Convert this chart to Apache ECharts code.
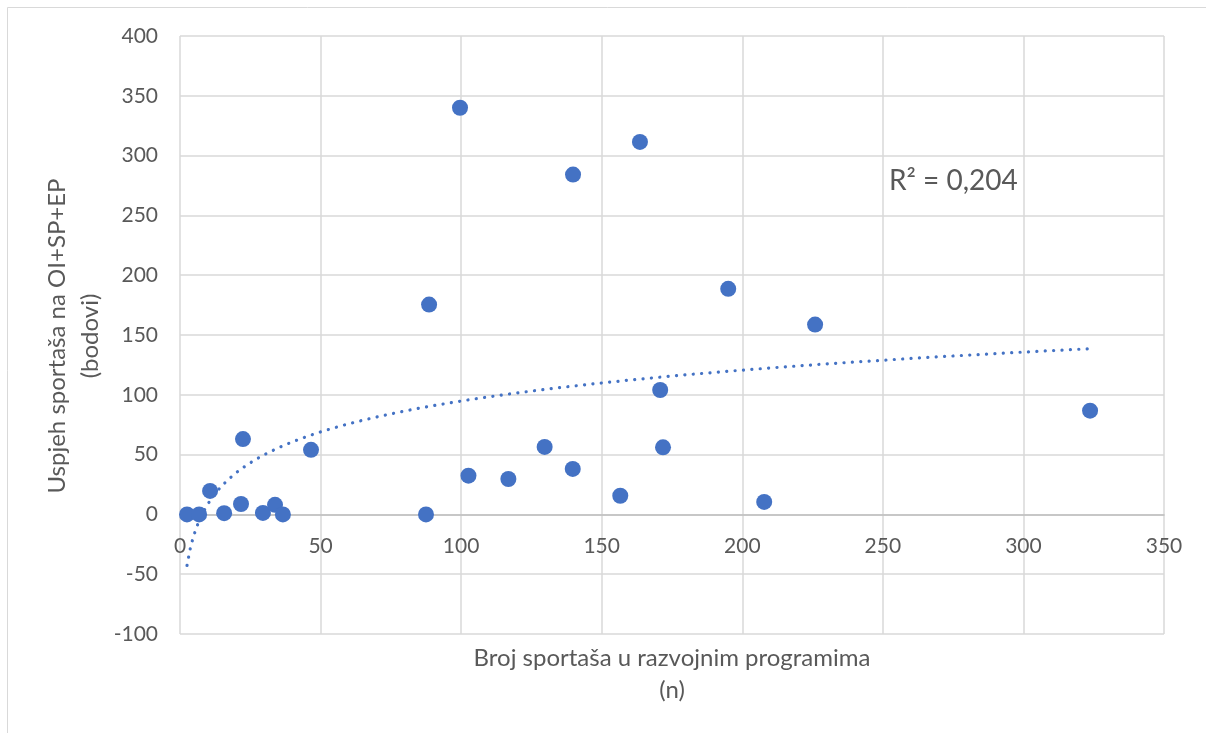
<!DOCTYPE html>
<html>
<head>
<meta charset="utf-8">
<script src="https://cdn.jsdelivr.net/npm/echarts@6/dist/echarts.min.js"></script>
<style>
html,body{margin:0;padding:0;background:#fff;}
#c{width:1206px;height:733px;}
</style>
</head>
<body>
<div id="c"></div>
<script>
// Data
const xValues = [2.5, 6.8, 10.7, 15.7, 21.7, 22.4, 29.5, 33.8, 36.6, 46.6, 87.5, 88.6, 99.6, 102.6, 116.8, 129.7, 139.7, 139.8, 156.6, 163.6, 171.8, 170.8, 195, 207.8, 225.9, 323.7];
const yValues = [0, 0, 19.6, 1, 8.7, 63, 1.2, 8, 0, 54, 0, 175.4, 340, 32.4, 29.6, 56.4, 38, 284.1, 15.6, 311.4, 56.1, 104, 188.6, 10.4, 158.7, 86.7];
const xTicks = [0, 50, 100, 150, 200, 250, 300, 350];
const yTicks = [-100, -50, 0, 50, 100, 150, 200, 250, 300, 350, 400];
const xTitle = 'Broj sportaša u razvojnim programima\n(n)';
const yTitle = 'Uspjeh sportaša na OI+SP+EP\n(bodovi)';
const r2Label = 'R² = 0,204';

// Logarithmic trendline (least squares on ln x), as Excel does
const lx = xValues.map(Math.log);
const n = lx.length;
const mx = lx.reduce((a, b) => a + b, 0) / n;
const my = yValues.reduce((a, b) => a + b, 0) / n;
let sxy = 0, sxx = 0;
for (let i = 0; i < n; i++) { sxy += (lx[i] - mx) * (yValues[i] - my); sxx += (lx[i] - mx) * (lx[i] - mx); }
const slope = sxy / sxx, intercept = my - slope * mx;
const xmin = Math.min(...xValues), xmax = Math.max(...xValues);
const trend = [];
for (let k = 0; k <= 300; k++) {
  const x = xmin + (xmax - xmin) * k / 300;
  trend.push([x, slope * Math.log(x) + intercept]);
}

const FONT = 'Lato';
const TXT = '#595959';
const chart = echarts.init(document.getElementById('c'), null, {renderer: 'canvas'});
chart.setOption({
  animation: false,
  backgroundColor: '#fff',
  grid: {left: 180, right: 42, top: 36, bottom: 99, containLabel: false},
  xAxis: {
    type: 'value', min: xTicks[0], max: xTicks[xTicks.length - 1], interval: 50,
    axisLine: {show: true, onZero: true, lineStyle: {color: '#BFBFBF', width: 1.5}},
    axisTick: {show: false},
    axisLabel: {color: TXT, fontFamily: FONT, fontSize: 21, margin: -98},
    splitLine: {show: true, lineStyle: {color: '#D9D9D9', width: 1.5}}
  },
  yAxis: {
    type: 'value', min: yTicks[0], max: yTicks[yTicks.length - 1], interval: 50,
    axisLine: {show: false},
    axisTick: {show: false},
    axisLabel: {color: TXT, fontFamily: FONT, fontSize: 21, margin: 22},
    splitLine: {show: true, lineStyle: {color: '#D9D9D9', width: 1.5}}
  },
  series: [
    {
      type: 'line', data: trend, showSymbol: false, silent: true, z: 3,
      lineStyle: {color: '#4472C4', width: 3.2, type: [0.1, 8.3], cap: 'round'}
    },
    {
      type: 'scatter', data: xValues.map((x, i) => [x, yValues[i]]),
      symbolSize: 16, z: 4,
      itemStyle: {color: '#4472C4', opacity: 1}
    }
  ],
  graphic: [
    {type: 'rect', shape: {x: 7.5, y: 7.5, width: 1400, height: 1000}, style: {fill: 'none', stroke: '#D9D9D9', lineWidth: 1}, silent: true, z: -10},
    {type: 'text', x: 672, y: 674, style: {text: xTitle, fill: TXT, font: '24px ' + FONT, textAlign: 'center', textVerticalAlign: 'middle', lineHeight: 32}},
    {type: 'text', x: 74, y: 336, rotation: Math.PI / 2, style: {text: yTitle, fill: TXT, font: '24px ' + FONT, textAlign: 'center', textVerticalAlign: 'middle', lineHeight: 33}},
    {type: 'text', x: 889, y: 181, style: {text: r2Label, fill: TXT, font: '28px ' + FONT, textAlign: 'left', textVerticalAlign: 'middle'}}
  ]
});
</script>
</body>
</html>
